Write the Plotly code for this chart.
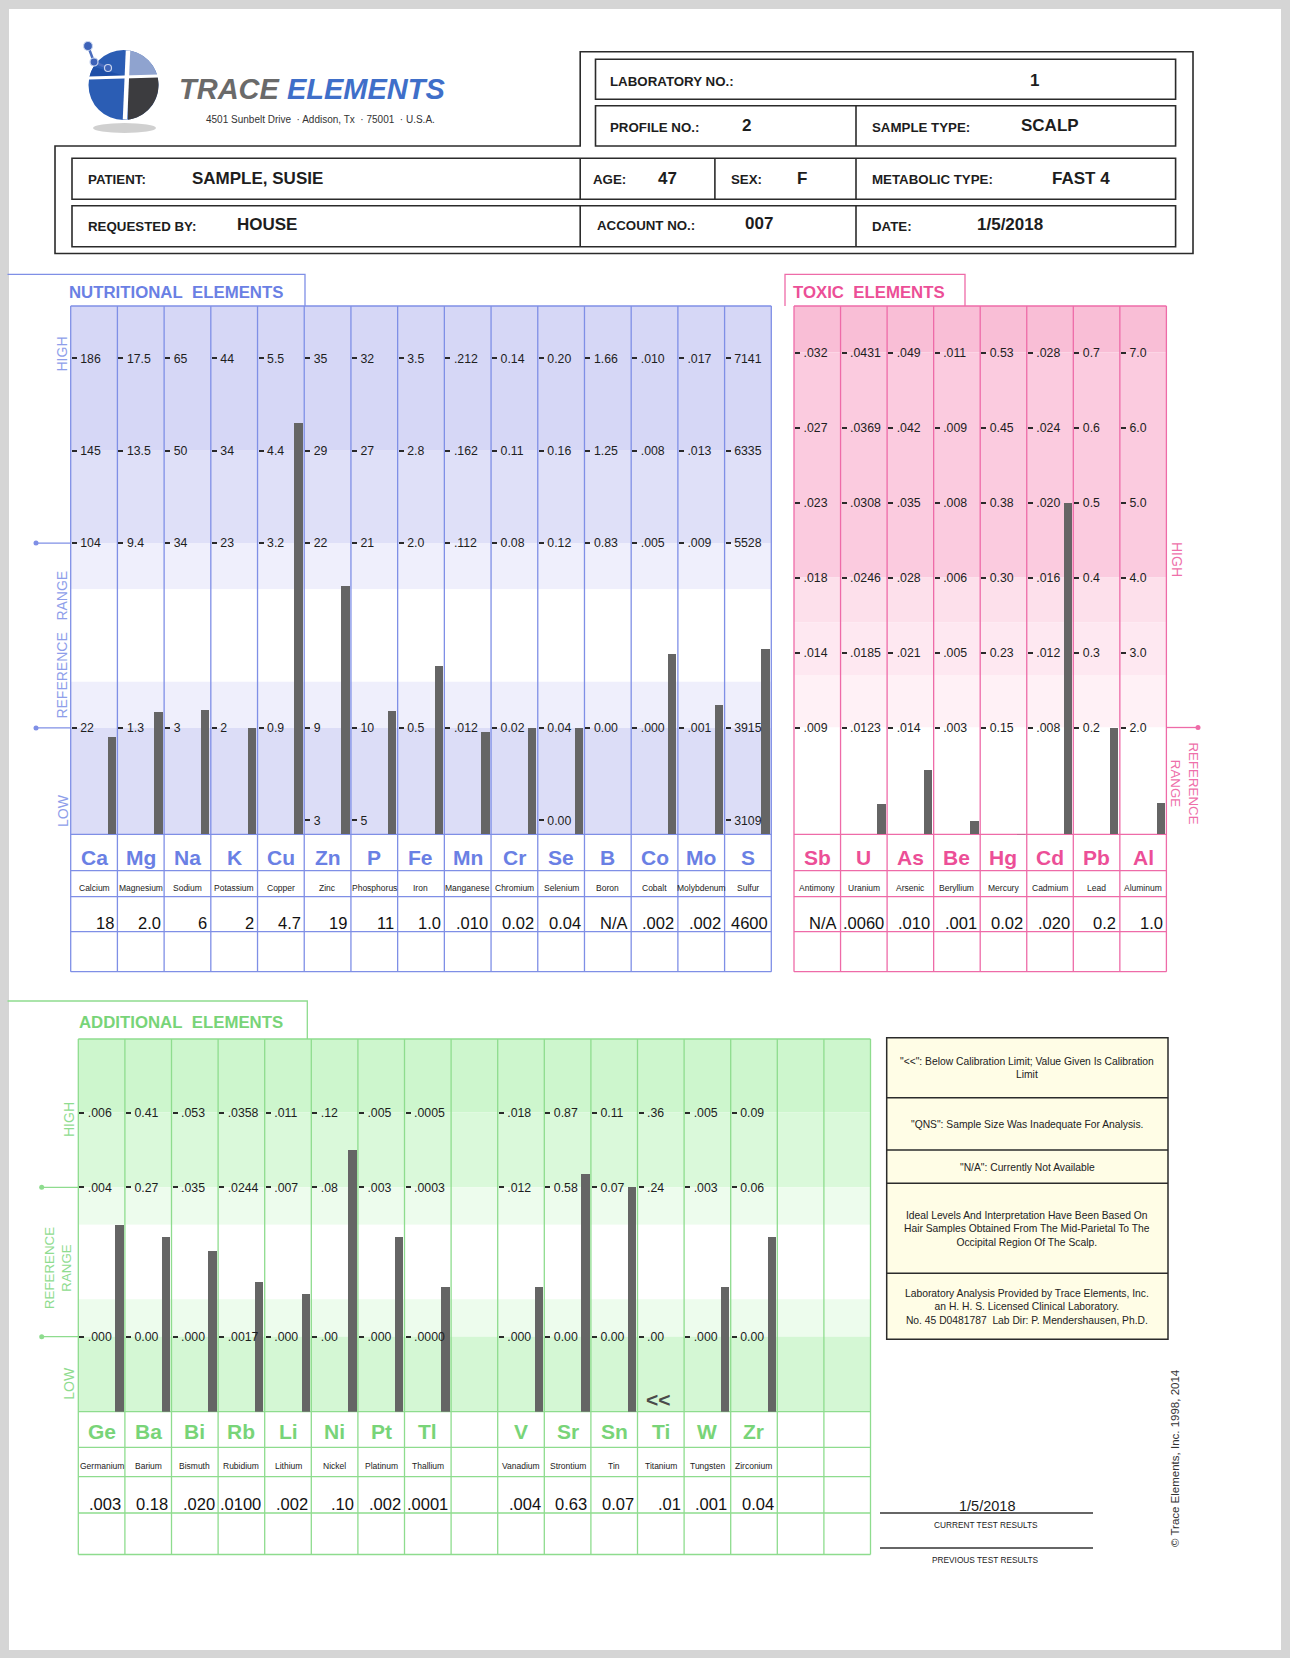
import math
import plotly.graph_objects as go

W, H = 1290, 1658
FONT = "Liberation Sans, Arial, Helvetica, sans-serif"
INK = "#1d1d1d"
BAR_C = "#656565"

# ---------------- report header ----------------
lab_no = "1"
profile_no = "2"
sample_type = "SCALP"
patient = "SAMPLE, SUSIE"
age = "47"
sex = "F"
metabolic_type = "FAST 4"
requested_by = "HOUSE"
account_no = "007"
report_date = "1/5/2018"

# ---------------- nutritional elements ----------------
nut_symbols = ["Ca", "Mg", "Na", "K", "Cu", "Zn", "P", "Fe", "Mn", "Cr", "Se", "B", "Co", "Mo", "S"]
nut_names = ["Calcium", "Magnesium", "Sodium", "Potassium", "Copper", "Zinc", "Phosphorus", "Iron",
             "Manganese", "Chromium", "Selenium", "Boron", "Cobalt", "Molybdenum", "Sulfur"]
nut_high = ["186", "17.5", "65", "44", "5.5", "35", "32", "3.5", ".212", "0.14", "0.20", "1.66", ".010", ".017", "7141"]
nut_upper = ["145", "13.5", "50", "34", "4.4", "29", "27", "2.8", ".162", "0.11", "0.16", "1.25", ".008", ".013", "6335"]
nut_ref_high = ["104", "9.4", "34", "23", "3.2", "22", "21", "2.0", ".112", "0.08", "0.12", "0.83", ".005", ".009", "5528"]
nut_ref_low = ["22", "1.3", "3", "2", "0.9", "9", "10", "0.5", ".012", "0.02", "0.04", "0.00", ".000", ".001", "3915"]
nut_low = ["", "", "", "", "", "3", "5", "", "", "", "0.00", "", "", "", "3109"]
nut_results = ["18", "2.0", "6", "2", "4.7", "19", "11", "1.0", ".010", "0.02", "0.04", "N/A", ".002", ".002", "4600"]
nut_flags = ["", "", "", "", "", "", "", "", "", "", "", "", "", "", ""]

# ---------------- toxic elements ----------------
tox_symbols = ["Sb", "U", "As", "Be", "Hg", "Cd", "Pb", "Al"]
tox_names = ["Antimony", "Uranium", "Arsenic", "Beryllium", "Mercury", "Cadmium", "Lead", "Aluminum"]
tox_l5 = [".032", ".0431", ".049", ".011", "0.53", ".028", "0.7", "7.0"]
tox_l4 = [".027", ".0369", ".042", ".009", "0.45", ".024", "0.6", "6.0"]
tox_l3 = [".023", ".0308", ".035", ".008", "0.38", ".020", "0.5", "5.0"]
tox_l2 = [".018", ".0246", ".028", ".006", "0.30", ".016", "0.4", "4.0"]
tox_l1 = [".014", ".0185", ".021", ".005", "0.23", ".012", "0.3", "3.0"]
tox_l0 = [".009", ".0123", ".014", ".003", "0.15", ".008", "0.2", "2.0"]
tox_results = ["N/A", ".0060", ".010", ".001", "0.02", ".020", "0.2", "1.0"]
tox_flags = ["", "", "", "", "", "", "", ""]

# ---------------- additional elements ----------------
add_symbols = ["Ge", "Ba", "Bi", "Rb", "Li", "Ni", "Pt", "Tl", "", "V", "Sr", "Sn", "Ti", "W", "Zr", "", ""]
add_names = ["Germanium", "Barium", "Bismuth", "Rubidium", "Lithium", "Nickel", "Platinum", "Thallium", "",
             "Vanadium", "Strontium", "Tin", "Titanium", "Tungsten", "Zirconium", "", ""]
add_high = [".006", "0.41", ".053", ".0358", ".011", ".12", ".005", ".0005", "", ".018", "0.87", "0.11", ".36", ".005", "0.09", "", ""]
add_ref_high = [".004", "0.27", ".035", ".0244", ".007", ".08", ".003", ".0003", "", ".012", "0.58", "0.07", ".24", ".003", "0.06", "", ""]
add_ref_low = [".000", "0.00", ".000", ".0017", ".000", ".00", ".000", ".0000", "", ".000", "0.00", "0.00", ".00", ".000", "0.00", "", ""]
add_results = [".003", "0.18", ".020", ".0100", ".002", ".10", ".002", ".0001", "", ".004", "0.63", "0.07", ".01", ".001", "0.04", "", ""]
add_flags = ["", "", "", "", "", "", "", "", "", "", "", "", "<<", "", "", "", ""]

notes = [
    '"<<": Below Calibration Limit; Value Given Is Calibration<br>Limit',
    '"QNS": Sample Size Was Inadequate For Analysis.',
    '"N/A": Currently Not Available',
    'Ideal Levels And Interpretation Have Been Based On<br>Hair Samples Obtained From The Mid-Parietal To The<br>Occipital Region Of The Scalp.',
    'Laboratory Analysis Provided by Trace Elements, Inc.<br>an H. H. S. Licensed Clinical Laboratory.<br>No. 45 D0481787  Lab Dir: P. Mendershausen, Ph.D.',
]

# ======================================================================
def X(p):
    return p / W


def Y(p):
    return 1 - p / H


shapes, annotations, traces, axes = [], [], [], {}


def rect(x0, y0, x1, y1, fill=None, line=None, lw=0, layer="below"):
    shapes.append(dict(type="rect", xref="paper", yref="paper", x0=X(x0), x1=X(x1), y0=Y(y1), y1=Y(y0),
                       fillcolor=fill or "rgba(0,0,0,0)",
                       line=dict(color=line or "rgba(0,0,0,0)", width=lw), layer=layer))


def ellipse(x0, y0, x1, y1, fill, line=None, lw=0):
    shapes.append(dict(type="circle", xref="paper", yref="paper", x0=X(x0), x1=X(x1), y0=Y(y1), y1=Y(y0),
                       fillcolor=fill, line=dict(color=line or "rgba(0,0,0,0)", width=lw), layer="below"))


def seg(x0, y0, x1, y1, color, lw=1.3, layer="below"):
    shapes.append(dict(type="line", xref="paper", yref="paper", x0=X(x0), y0=Y(y0), x1=X(x1), y1=Y(y1),
                       line=dict(color=color, width=lw), layer=layer))


def poly(pts, color=None, lw=0, fill=None, close=True):
    d = "M " + " L ".join(f"{X(a):.5f},{Y(b):.5f}" for a, b in pts) + (" Z" if close else "")
    shapes.append(dict(type="path", xref="paper", yref="paper", path=d, fillcolor=fill or "rgba(0,0,0,0)",
                       line=dict(color=color or "rgba(0,0,0,0)", width=lw), layer="below"))


def label(x, y, s, size, color=INK, family=FONT, xa="center", ya="middle", angle=0, bold=False, italic=False):
    if italic:
        s = f"<i>{s}</i>"
    if bold:
        s = f"<b>{s}</b>"
    annotations.append(dict(xref="paper", yref="paper", x=X(x), y=Y(y), text=s, showarrow=False,
                            font=dict(size=size, color=color, family=family), xanchor=xa, yanchor=ya,
                            textangle=angle, borderpad=0, align="center"))


def num(s):
    try:
        return float(s)
    except ValueError:
        return None


# ---------------- page ----------------
rect(9, 9, 1281, 1650, fill="white")

# ---------------- logo ----------------
ellipse(93, 123, 156, 133, "rgba(120,120,120,0.35)")
ellipse(88.5, 50, 158.5, 120, "#2B5DB4")
cx, cy, r = 123.5, 85.0, 35.0
kx, ky = 128.0, 77.0
ca = math.acos((kx - cx) / r)
sa = math.asin((ky - cy) / r)


def arc(a0, a1, n=24):
    return [(cx + r * math.cos(a0 + (a1 - a0) * j / n), cy + r * math.sin(a0 + (a1 - a0) * j / n)) for j in range(n + 1)]


poly([(kx, ky)] + arc(sa, ca), fill="#3C3C3F")
poly([(kx, ky)] + arc(-ca, sa), fill="#8FA3CF")
poly([(kx, ky)] + arc(math.pi - sa, math.pi + 0.55), fill="#1E4FA8")
seg(kx, 50.5, kx - 3, 119.5, "white", 4.5)
seg(89, ky + 1, 158, ky - 1, "white", 3)
poly([(88, 46), (94, 62), (108, 68)], color="#4B6DBE", lw=2.5, close=False)
for (nx, ny, nr) in [(88, 46, 4.5), (94, 62, 4), (108, 68, 3.5)]:
    ellipse(nx - nr, ny - nr, nx + nr, ny + nr, "#3D62B8", "#C9D5EE", 1.2)
annotations.append(dict(xref="paper", yref="paper", x=X(177), y=Y(88.5), showarrow=False, xanchor="left",
                        yanchor="middle",
                        text="<b><i><span style='color:#6A6A6A'>TRACE</span> <span style='color:#3F6FC9'>ELEMENTS</span></i></b>",
                        font=dict(size=29, family=FONT)))
label(320, 119, "4501 Sunbelt Drive  · Addison, Tx  · 75001  · U.S.A.", 10, "#333333", FONT)

# ---------------- header boxes ----------------
DK = "#2b2b2b"
poly([(55, 146), (580.2, 146), (580.2, 51.7), (1193, 51.7), (1193, 253.5), (55, 253.5)], color=DK, lw=1.6)
rect(595.5, 59.3, 1175.6, 99.3, line=DK, lw=1.6)
rect(595.5, 105.7, 1175.6, 146, line=DK, lw=1.6)
seg(856, 105.7, 856, 146, DK, 1.6)
rect(72, 158.3, 1175.6, 199.3, line=DK, lw=1.6)
for xx in (580.2, 714.9, 856):
    seg(xx, 158.3, xx, 199.3, DK, 1.6)
rect(72, 205.7, 1175.6, 246.7, line=DK, lw=1.6)
for xx in (580.2, 856):
    seg(xx, 205.7, xx, 246.7, DK, 1.6)

LF, VF = 13.3, 17
label(609, 82, "LABORATORY NO.:", LF, xa="left", bold=True)
label(1034.5, 81, lab_no, VF, bold=True)
label(609, 127, "PROFILE NO.:", LF, xa="left", bold=True)
label(741, 125.5, profile_no, VF, xa="left", bold=True)
label(871.4, 127, "SAMPLE TYPE:", LF, xa="left", bold=True)
label(1020, 125.5, sample_type, VF, xa="left", bold=True)
label(87, 180, "PATIENT:", LF, xa="left", bold=True)
label(191, 178.5, patient, VF, xa="left", bold=True)
label(592.4, 180, "AGE:", LF, xa="left", bold=True)
label(656.7, 178.5, age, VF, xa="left", bold=True)
label(730, 180, "SEX:", LF, xa="left", bold=True)
label(796.4, 178.5, sex, VF, xa="left", bold=True)
label(871.4, 180, "METABOLIC TYPE:", LF, xa="left", bold=True)
label(1051, 178.5, metabolic_type, VF, xa="left", bold=True)
label(87, 226.5, "REQUESTED BY:", LF, xa="left", bold=True)
label(235.8, 224, requested_by, VF, xa="left", bold=True)
label(595.5, 226, "ACCOUNT NO.:", LF, xa="left", bold=True)
label(744, 223.5, account_no, VF, xa="left", bold=True)
label(871.4, 226.5, "DATE:", LF, xa="left", bold=True)
label(976.3, 224, report_date, VF, xa="left", bold=True)

# ---------------- panels ----------------
NUT_G = dict(left=70.7, right=771.3, top=306.0, bottom=834.3, L0=727.9, step=92.4,
             rows=[834.3, 870.7, 896.7, 931.7, 971.7], sym_y=857.5, name_y=888.5, val_y=922.5)
TOX_G = dict(left=794.0, right=1166.4, top=306.0, bottom=834.3, L0=727.5, step=75.0,
             rows=[834.3, 870.7, 896.7, 931.7, 971.7], sym_y=857.5, name_y=888.5, val_y=922.5)
ADD_G = dict(left=78.3, right=870.5, top=1039.0, bottom=1411.7, L0=1336.7, step=74.7,
             rows=[1411.7, 1447.3, 1476.7, 1513.0, 1554.5], sym_y=1431.5, name_y=1465.5, val_y=1503.5)

axis_count = [0]


def build_panel(g, xname, symbols, names, results, flags, level_rows, ref_level, line_c, sym_c, bands):
    n = len(symbols)
    colw = (g["right"] - g["left"]) / n
    xkey = "xaxis" if xname == "x" else "xaxis" + xname[1:]
    lv = lambda L: g["L0"] - L * g["step"]
    for (a, b, col) in bands:
        ya = g["top"] if a is None else lv(a)
        yb = g["bottom"] if b is None else lv(b)
        rect(g["left"], ya, g["right"], yb, fill=col)
    for j in range(n + 1):
        xx = g["left"] + j * colw
        seg(xx, g["top"], xx, g["rows"][-1], line_c, 1.3)
    seg(g["left"], g["top"], g["right"], g["top"], line_c, 1.3)
    for yy in g["rows"]:
        seg(g["left"], yy, g["right"], yy, line_c, 1.3)

    lo_labels = dict(level_rows)[0]
    hi_labels = dict(level_rows)[ref_level]
    Lb = (g["L0"] - g["bottom"]) / g["step"]
    Lt = (g["L0"] - g["top"]) / g["step"]
    base = None
    for i in range(n):
        cxp = g["left"] + (i + 0.5) * colw
        if not symbols[i]:
            continue
        label(cxp, g["sym_y"], symbols[i], 21, sym_c, FONT, bold=True)
        label(cxp, g["name_y"], names[i], 8.5, "#222222", FONT)
        label(g["left"] + (i + 1) * colw - 2.5, g["val_y"], results[i], 16.5, "#111111", FONT, xa="right")

        axis_count[0] += 1
        k = axis_count[0]
        yname = "y" if k == 1 else f"y{k}"
        ykey = "yaxis" if k == 1 else f"yaxis{k}"
        lo = float(lo_labels[i])
        hi = float(hi_labels[i])
        unit = (hi - lo) / ref_level
        rmin, rmax = lo + Lb * unit, lo + Lt * unit
        tv = [lo + L * unit for L, labs in level_rows if labs[i]]
        tt = [labs[i] for L, labs in level_rows if labs[i]]
        ax = dict(range=[rmin, rmax], anchor="free", position=X(g["left"] + i * colw),
                  showgrid=False, zeroline=False, showline=False,
                  ticks="inside", ticklen=5, tickwidth=2, tickcolor="#2a2a2a",
                  tickvals=tv, ticktext=tt, ticklabelposition="inside", ticklabelstandoff=3,
                  tickfont=dict(size=12.3, color="#1e1e1e", family=FONT), fixedrange=True)
        if base is None:
            ax["domain"] = [Y(g["bottom"]), Y(g["top"])]
            base = yname
        else:
            ax["overlaying"] = base
        axes[ykey] = ax
        v = num(results[i])
        show = (v is not None) and flags[i] != "<<"
        traces.append(go.Bar(x=[i], y=[(v - rmin) if show else None], base=[rmin], width=0.18, offset=0.29,
                             xaxis=xname, yaxis=yname, marker=dict(color=BAR_C, line=dict(width=0)),
                             hoverinfo="skip", showlegend=False))
        if flags[i] == "<<":
            label(cxp - 2, g["bottom"] - 12, "<<", 21, "#4a4a4a", FONT, bold=True)
    axes[xkey] = dict(domain=[X(g["left"]), X(g["right"])], range=[-0.5, n - 0.5], visible=False,
                      fixedrange=True, anchor=base)


NUT_LINE, NUT_TXT = "#7F8FE6", "#6A80E4"
TOX_LINE, TOX_TXT = "#EE6BA8", "#EC4F97"
ADD_LINE, ADD_TXT = "#8EDC8E", "#78D478"

build_panel(NUT_G, "x", nut_symbols, nut_names, nut_results, nut_flags,
            [(4, nut_high), (3, nut_upper), (2, nut_ref_high), (0, nut_ref_low), (-1, nut_low)], 2,
            NUT_LINE, NUT_TXT,
            [(None, 3, "#D6D7F6"), (3, 2, "#DFE0F8"), (2, 1.5, "#EFEFFC"), (1.5, 0.5, "#FFFFFF"),
             (0.5, 0, "#EFEFFC"), (0, None, "#DCDDF7")])
build_panel(TOX_G, "x2", tox_symbols, tox_names, tox_results, tox_flags,
            [(5, tox_l5), (4, tox_l4), (3, tox_l3), (2, tox_l2), (1, tox_l1), (0, tox_l0)], 5,
            TOX_LINE, TOX_TXT,
            [(None, 5, "#F9BED6"), (5, 2, "#FBCBDF"), (2, 1.4, "#FDE0EB"), (1.4, 0.7, "#FEE8F1"),
             (0.7, 0, "#FFF1F6"), (0, None, "#FFFFFF")])
build_panel(ADD_G, "x3", add_symbols, add_names, add_results, add_flags,
            [(3, add_high), (2, add_ref_high), (0, add_ref_low)], 2,
            ADD_LINE, ADD_TXT,
            [(None, 3, "#CDF6CD"), (3, 2, "#DAF9DA"), (2, 1.5, "#EDFCED"), (1.5, 0.5, "#FFFFFF"),
             (0.5, 0, "#EDFCED"), (0, None, "#D4F7D4")])

# ---------------- panel tabs & side labels ----------------
poly([(7.5, 274.3), (305, 274.3), (305, 306)], color=NUT_LINE, lw=1.3, close=False)
label(68, 293, "NUTRITIONAL\u00a0 ELEMENTS", 16.8, NUT_TXT, FONT, xa="left", bold=True)
poly([(785, 306), (785, 274.3), (965, 274.3), (965, 306)], color=TOX_LINE, lw=1.3, close=False)
label(791.7, 292.5, "TOXIC\u00a0 ELEMENTS", 16.8, TOX_TXT, FONT, xa="left", bold=True)
poly([(7.5, 1001), (307.3, 1001), (307.3, 1039)], color=ADD_LINE, lw=1.3, close=False)
label(78, 1022.5, "ADDITIONAL\u00a0 ELEMENTS", 16.8, ADD_TXT, FONT, xa="left", bold=True)

NUT_SIDE, TOX_SIDE, ADD_SIDE = "#8E9EEA", "#EE6FAA", "#8FDC8F"
label(62, 354.5, "HIGH", 14, NUT_SIDE, FONT, angle=-90)
label(62, 644.6, "REFERENCE\u00a0\u00a0 RANGE", 14, NUT_SIDE, FONT, angle=-90)
label(63, 811, "LOW", 14, NUT_SIDE, FONT, angle=-90)
for yy in (NUT_G["L0"] - 2 * NUT_G["step"], NUT_G["L0"]):
    seg(36, yy, NUT_G["left"], yy, NUT_LINE, 1.3)
    ellipse(33.5, yy - 2.5, 38.5, yy + 2.5, NUT_LINE)

label(1177, 559, "HIGH", 14, TOX_SIDE, FONT, angle=90)
label(1184.5, 783, "REFERENCE<br>RANGE", 13.3, TOX_SIDE, FONT, angle=90)
seg(TOX_G["right"], TOX_G["L0"], 1198, TOX_G["L0"], TOX_LINE, 1.3)
ellipse(1195.5, TOX_G["L0"] - 2.5, 1200.5, TOX_G["L0"] + 2.5, TOX_LINE)

label(69, 1120, "HIGH", 14, ADD_SIDE, FONT, angle=-90)
label(58, 1268, "REFERENCE<br>RANGE", 13.3, ADD_SIDE, FONT, angle=-90)
label(68.7, 1383, "LOW", 14, ADD_SIDE, FONT, angle=-90)
for yy in (ADD_G["L0"] - 2 * ADD_G["step"], ADD_G["L0"]):
    seg(41.7, yy, ADD_G["left"], yy, ADD_LINE, 1.3)
    ellipse(39.2, yy - 2.5, 44.2, yy + 2.5, ADD_LINE)

# ---------------- notes box ----------------
note_rows = [1037.7, 1097.7, 1150.0, 1183.3, 1273.3, 1339.3]
rect(886.7, note_rows[0], 1168, note_rows[-1], fill="#FFFDE6", line=DK, lw=1.5)
for yy in note_rows[1:-1]:
    seg(886.7, yy, 1168, yy, DK, 1.5)
for j, t in enumerate(notes):
    label(1027.3, (note_rows[j] + note_rows[j + 1]) / 2 + 0.5, t, 10.3, "#222222", FONT)

# ---------------- result lines ----------------
label(986.5, 1505.5, report_date, 14.5, "#1a1a1a", FONT)
seg(880, 1513, 1093, 1513, "#333333", 1.5)
label(985.6, 1524.5, "CURRENT TEST RESULTS", 8.3, "#222222", FONT)
seg(880, 1548, 1093, 1548, "#333333", 1.5)
label(985.6, 1560, "PREVIOUS TEST RESULTS", 8.3, "#222222", FONT)
label(1175, 1458, "\u00a9 Trace Elements, Inc. 1998, 2014", 11.5, "#333333", FONT, angle=-90)

# ---------------- figure ----------------
fig = go.Figure(data=traces)
fig.update_layout(width=W, height=H, margin=dict(l=0, r=0, t=0, b=0), paper_bgcolor="#D5D5D5",
                  plot_bgcolor="rgba(0,0,0,0)", showlegend=False, shapes=shapes, annotations=annotations,
                  bargap=0, dragmode=False, **axes)
fig.write_html("out.html", config={"displayModeBar": False, "staticPlot": True},
               post_script="document.body.style.margin='0px';document.body.style.overflow='hidden';")
